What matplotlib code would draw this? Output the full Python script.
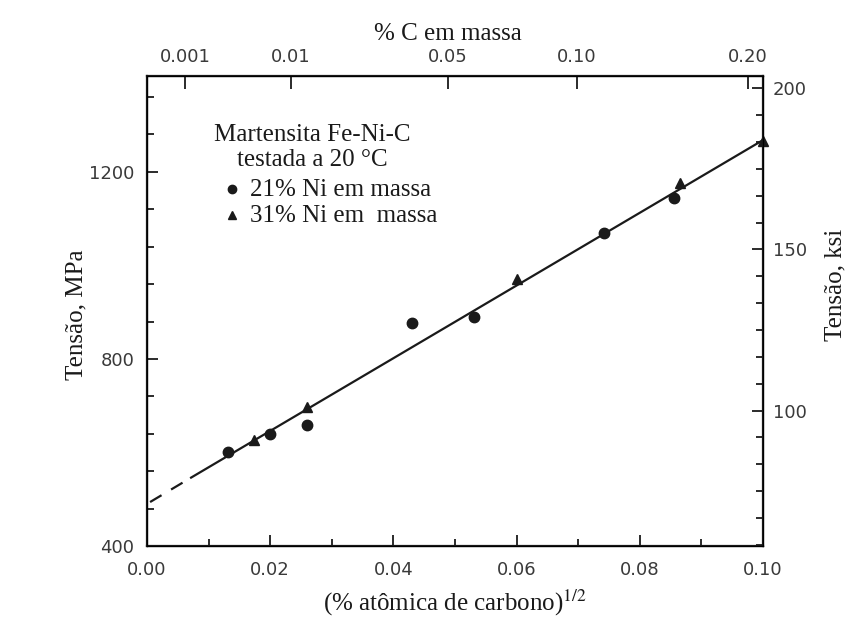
import matplotlib
matplotlib.use("Agg")
import matplotlib.pyplot as plt
import numpy as np
from matplotlib.ticker import MultipleLocator

# valores
x_21ni = np.array([0.0132, 0.0200, 0.0260, 0.0430, 0.0531, 0.0742, 0.0856])
y_21ni = np.array([601, 640, 659, 877, 890, 1070, 1144])
x_31ni = np.array([0.0174, 0.0260, 0.0601, 0.0865, 0.1000])
y_31ni = np.array([627, 697, 971, 1176, 1266])

# reta ajustada (trecho cheio) e extrapolação tracejada
fit_x = np.array([0.0070, 0.1000])
fit_y = np.array([545, 1268])
ext_x = np.array([0.0005, 0.0070])
ext_y = np.array([494, 545])

# eixo superior: % C em massa
top_pos = [0.0062, 0.0234, 0.0489, 0.0698, 0.0976]
top_labels = ["0.001", "0.01", "0.05", "0.10", "0.20"]

MPA_PER_KSI = 6.895

serif = "Liberation Serif"
sans = "DejaVu Sans"
plt.rcParams["mathtext.fontset"] = "stix"
col = "#1a1a1a"
tcol = "#3a3a3a"
fs = 18

fig = plt.figure(figsize=(8.66, 6.35), dpi=100)
ax = fig.add_axes([147/866, 89/635, 616/866, 470/635])

ax.plot(fit_x, fit_y, color=col, lw=1.6, solid_capstyle="butt")
ax.plot(ext_x, ext_y, color=col, lw=1.6, linestyle=(0, (6, 5)))
ax.plot(x_21ni, y_21ni, "o", color=col, ms=7.5, clip_on=False)
ax.plot(x_31ni, y_31ni, "^", color=col, ms=7, clip_on=False)

ax.set_xlim(0, 0.10)
ax.set_ylim(400, 1405)
ax.xaxis.set_major_locator(MultipleLocator(0.02))
ax.xaxis.set_minor_locator(MultipleLocator(0.01))
ax.set_yticks([400, 800, 1200])
ax.yaxis.set_minor_locator(MultipleLocator(80))
ax.xaxis.set_major_formatter(plt.FuncFormatter(lambda v, p: f"{v:.2f}"))

ax.tick_params(which="both", direction="in", colors=col, labelsize=13, width=1.3)
ax.tick_params(which="major", length=8)
ax.tick_params(which="minor", length=5)
ax.tick_params(axis="x", pad=11)
ax.tick_params(axis="y", pad=9)
for lab in ax.get_xticklabels() + ax.get_yticklabels():
    lab.set_fontfamily(sans)
    lab.set_color(tcol)
for s in ax.spines.values():
    s.set_linewidth(1.6)
    s.set_color(col)

# eixo da direita em ksi
axr = ax.twinx()
axr.set_ylim(400 / MPA_PER_KSI, 1405 / MPA_PER_KSI)
axr.set_yticks([100, 150, 200])
axr.yaxis.set_minor_locator(MultipleLocator(50 / 6))
axr.tick_params(which="both", direction="in", colors=col, labelsize=13, width=1.3, pad=7)
axr.tick_params(which="major", length=8)
axr.tick_params(which="minor", length=5)
for lab in axr.get_yticklabels():
    lab.set_fontfamily(sans)
    lab.set_color(tcol)
axr.set_ylabel("Tensão, ksi", fontfamily=serif, fontsize=fs, color=col)
axr.yaxis.set_label_coords(1.10, 0.555)

# eixo superior em % C em massa
axt = ax.twiny()
axt.set_xlim(0, 0.10)
axt.set_xticks(top_pos)
axt.set_xticklabels(top_labels)
axt.tick_params(which="both", direction="in", colors=col, labelsize=13, width=1.3, length=9, pad=7)
for lab in axt.get_xticklabels():
    lab.set_fontfamily(sans)
    lab.set_color(tcol)
axt.set_xlabel("% C em massa", fontfamily=serif, fontsize=fs, color=col)
axt.xaxis.set_label_coords(0.489, 1.077)

ax.set_xlabel("(% atômica de carbono)$^{1/2}$", fontfamily=serif, fontsize=fs, color=col)
ax.xaxis.set_label_coords(0.500, -0.089)
ax.set_ylabel("Tensão, MPa", fontfamily=serif, fontsize=fs, color=col)
ax.yaxis.set_label_coords(-0.096, 0.491)

# legenda
ax.text(0.268, 0.874, "Martensita Fe-Ni-C", transform=ax.transAxes, ha="center", va="center",
        fontfamily=serif, fontsize=fs, color=col)
ax.text(0.268, 0.821, "testada a 20 °C", transform=ax.transAxes, ha="center", va="center",
        fontfamily=serif, fontsize=fs, color=col)
ax.plot([0.138], [0.760], "o", color=col, ms=6, transform=ax.transAxes)
ax.text(0.167, 0.757, "21% Ni em massa", transform=ax.transAxes, ha="left", va="center",
        fontfamily=serif, fontsize=fs, color=col)
ax.plot([0.138], [0.705], "^", color=col, ms=5.5, transform=ax.transAxes)
ax.text(0.167, 0.702, "31% Ni em  massa", transform=ax.transAxes, ha="left", va="center",
        fontfamily=serif, fontsize=fs, color=col)

fig.savefig("out.png", dpi=100)
